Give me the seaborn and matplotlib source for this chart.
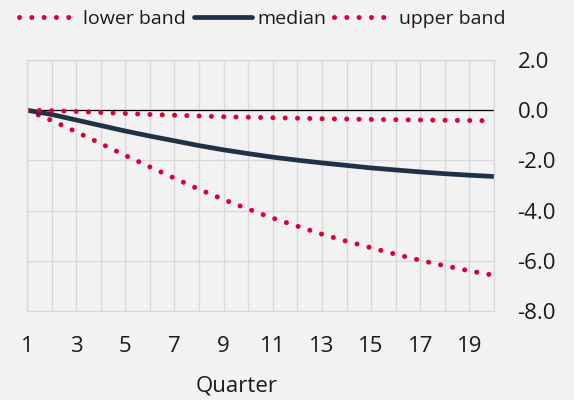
import pandas as pd
import matplotlib
matplotlib.use("Agg")
import matplotlib.pyplot as plt
import matplotlib.ticker as mticker
import seaborn as sns

# values
quarters = list(range(1, 21))
lower_band = [0, -0.41, -0.86, -1.33, -1.80, -2.26, -2.71, -3.15, -3.56, -3.94,
              -4.30, -4.62, -4.94, -5.22, -5.48, -5.74, -5.98, -6.20, -6.40, -6.58]
median = [0, -0.17, -0.39, -0.61, -0.83, -1.03, -1.22, -1.41, -1.58, -1.73,
          -1.87, -1.99, -2.10, -2.20, -2.30, -2.38, -2.46, -2.53, -2.59, -2.64]
upper_band = [0, -0.02, -0.05, -0.09, -0.13, -0.17, -0.20, -0.23, -0.26, -0.28,
              -0.30, -0.32, -0.34, -0.35, -0.37, -0.38, -0.39, -0.40, -0.41, -0.42]

df = pd.DataFrame({"Quarter": quarters, "lower band": lower_band,
                   "median": median, "upper band": upper_band})

sns.set_style("white")
plt.rcParams["font.family"] = ["Open Sans", "DejaVu Sans"]

bg = "#f2f2f2"
red = "#d90036"
navy = "#1f3146"
grid = "#d9d9d9"
txt = "#1a1a1a"

fig = plt.figure(figsize=(5.74, 4.0), dpi=100, facecolor=bg)
ax = fig.add_axes([27 / 574, 1 - 311 / 400, 467 / 574, 251 / 400])
ax.set_facecolor(bg)

dots = (0, (0.01, 2.45))
sns.lineplot(data=df, x="Quarter", y="lower band", ax=ax, color=red,
             lw=3.6, linestyle=dots, dash_capstyle="round", label="lower band")
sns.lineplot(data=df, x="Quarter", y="median", ax=ax, color=navy,
             lw=3.4, solid_capstyle="round", label="median")
sns.lineplot(data=df, x="Quarter", y="upper band", ax=ax, color=red,
             lw=3.6, linestyle=dots, dash_capstyle="round", label="upper band")

ax.axhline(0, color="black", lw=0.9, zorder=1.5)

ax.set_xlim(1, 20)
ax.set_ylim(-8, 2)
ax.set_xticks(range(1, 21, 2))
ax.set_xticks(range(1, 21), minor=True)
ax.set_yticks(range(-8, 3, 2))
ax.yaxis.set_major_formatter(mticker.FuncFormatter(lambda v, p: f"{v:.1f}".replace("\u2212", "-")))
ax.yaxis.tick_right()
ax.tick_params(axis="both", which="both", length=0, labelsize=16, colors=txt)
ax.tick_params(axis="y", pad=17)
ax.tick_params(axis="x", pad=18)

ax.grid(True, axis="x", which="both", color=grid, lw=1)
ax.grid(True, axis="y", which="major", color=grid, lw=1)
for s in ax.spines.values():
    s.set_color(grid)
    s.set_linewidth(1)

ax.set_xlabel("")
ax.set_ylabel("")
fig.text(237 / 574, 1 - 386 / 400, "Quarter", ha="center", va="center",
         fontsize=16, color=txt)

ax.legend(loc="center", bbox_to_anchor=(262 / 574, 1 - 19 / 400),
          bbox_transform=fig.transFigure, ncol=3, frameon=False,
          fontsize=14, handlelength=3.0, handletextpad=0.3,
          columnspacing=0.4, labelcolor=txt)

fig.savefig("out.png", dpi=100, facecolor=bg)
